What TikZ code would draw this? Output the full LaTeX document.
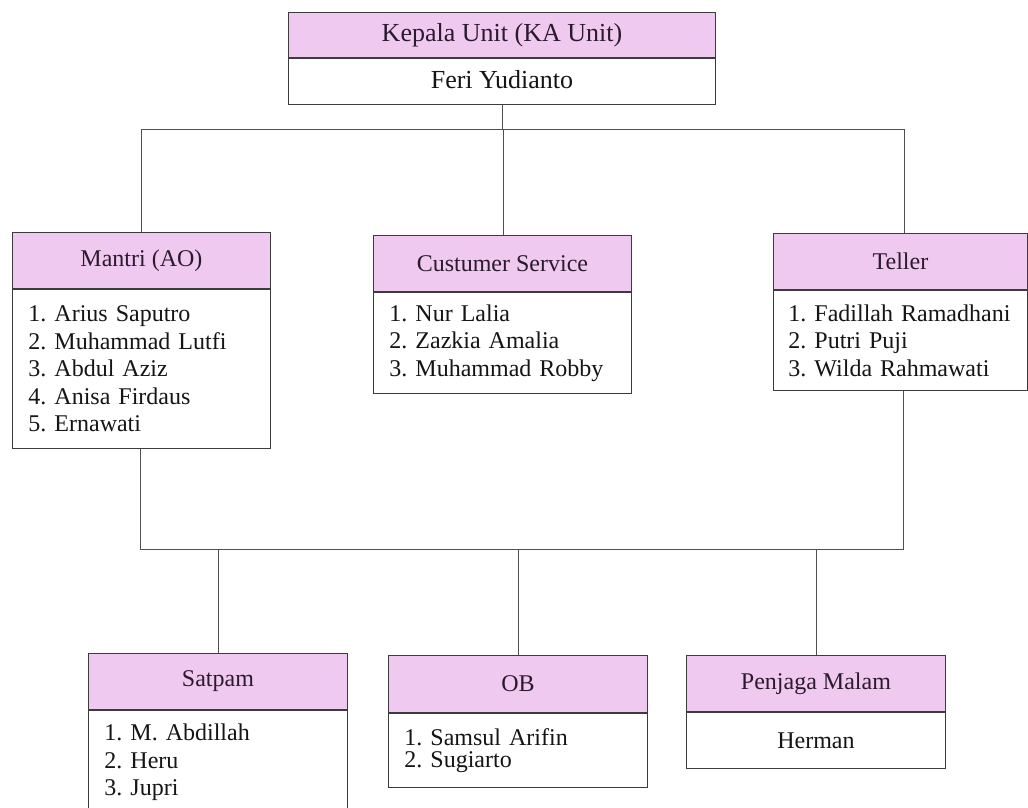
\documentclass[tikz,border=0pt]{standalone}
\usepackage{fontspec}
\setmainfont{Liberation Serif}
\frenchspacing
\hyphenpenalty=10000
\exhyphenpenalty=10000
\definecolor{hdrfill}{HTML}{F0C9F0}
\definecolor{hdrtext}{HTML}{2A1A2E}
\definecolor{bodytext}{HTML}{151515}
\definecolor{edge}{HTML}{3C3C3C}
\definecolor{wire}{HTML}{505050}
\begin{document}
\begin{tikzpicture}[x=1pt,y=1pt,
  hdr/.style={draw=edge, line width=0.9pt, fill=hdrfill, text=hdrtext, inner sep=0pt,
    anchor=north west, font=\fontsize{24}{27.5}\selectfont},
  bodybox/.style={draw=edge, line width=0.9pt, fill=white, text=bodytext, inner ysep=0pt,
    anchor=north west, font=\fontsize{24}{27.5}\selectfont},
  listbox/.style={bodybox, inner xsep=16pt, align=left},
  conn/.style={draw=wire, line width=0.9pt}]
\clip (0,0) rectangle (1028,-807);
\fill[white] (0,0) rectangle (1028,-807);

% Top box
\node[hdr, minimum width=427pt, minimum height=45pt, font=\fontsize{26}{30}\selectfont] (kaH) at (288,-12) {Kepala Unit (KA Unit)};
\node[bodybox, minimum width=427pt, minimum height=46pt, font=\fontsize{26}{30}\selectfont] (kaB) at (kaH.south west) {\raisebox{4pt}{Feri Yudianto}};

% Mantri
\node[hdr, minimum width=258pt, minimum height=56pt] (mantriH) at (12,-232) {Mantri (AO)};
\node[listbox, text width=226pt, minimum height=159pt] (mantriB) at (mantriH.south west)
  {1. Arius Saputro\\2. Muhammad Lutfi\\3. Abdul Aziz\\4. Anisa Firdaus\\5. Ernawati};

% Customer service
\node[hdr, minimum width=258pt, minimum height=56pt] (csH) at (373,-235) {Custumer Service};
\node[listbox, text width=226pt, minimum height=101pt] (csB) at (csH.south west)
  {1. Nur Lalia\\2. Zazkia Amalia\\3. Muhammad Robby};

% Teller
\node[hdr, minimum width=254pt, minimum height=56pt] (tellerH) at (773,-233) {Teller};
\node[listbox, inner xsep=15pt, text width=224pt, minimum height=100pt] (tellerB) at (tellerH.south west)
  {1. Fadillah Ramadhani\\2. Putri Puji\\3. Wilda Rahmawati};

% Satpam
\node[hdr, minimum width=259pt, minimum height=56pt] (satpamH) at (88,-653) {Satpam};
\node[listbox, text width=227pt, minimum height=104pt] (satpamB) at (satpamH.south west)
  {1. M. Abdillah\\2. Heru\\3. Jupri};

% OB
\node[hdr, minimum width=259pt, minimum height=57pt] (obH) at (388,-655) {OB};
\node[listbox, text width=227pt, minimum height=74pt, font=\fontsize{24}{22}\selectfont] (obB) at (obH.south west)
  {1. Samsul Arifin\\2. Sugiarto};

% Penjaga Malam
\node[hdr, minimum width=259pt, minimum height=56pt] (pmH) at (686,-655) {Penjaga Malam};
\node[bodybox, minimum width=259pt, minimum height=56pt] (pmB) at (pmH.south west) {Herman};

% upper connectors
\coordinate (busA) at (0,-129);
\draw[conn] (kaB.south) -- (kaB.south |- busA);
\draw[conn] (mantriH.north) -- (mantriH.north |- busA) -- ([xshift=4pt]tellerH.north |- busA) -- ([xshift=4pt]tellerH.north);
\draw[conn] ([xshift=1pt]csH.north) -- ([xshift=1pt]csH.north |- busA);

% lower connectors
\coordinate (busB) at (0,-549);
\draw[conn] ([xshift=-1pt]mantriB.south) -- ([xshift=-1pt]mantriB.south |- busB) -- ([xshift=3pt]tellerB.south |- busB) -- ([xshift=3pt]tellerB.south);
\draw[conn] (satpamH.north) -- (satpamH.north |- busB);
\draw[conn] (obH.north) -- (obH.north |- busB);
\draw[conn] (pmH.north) -- (pmH.north |- busB);
\end{tikzpicture}
\end{document}
